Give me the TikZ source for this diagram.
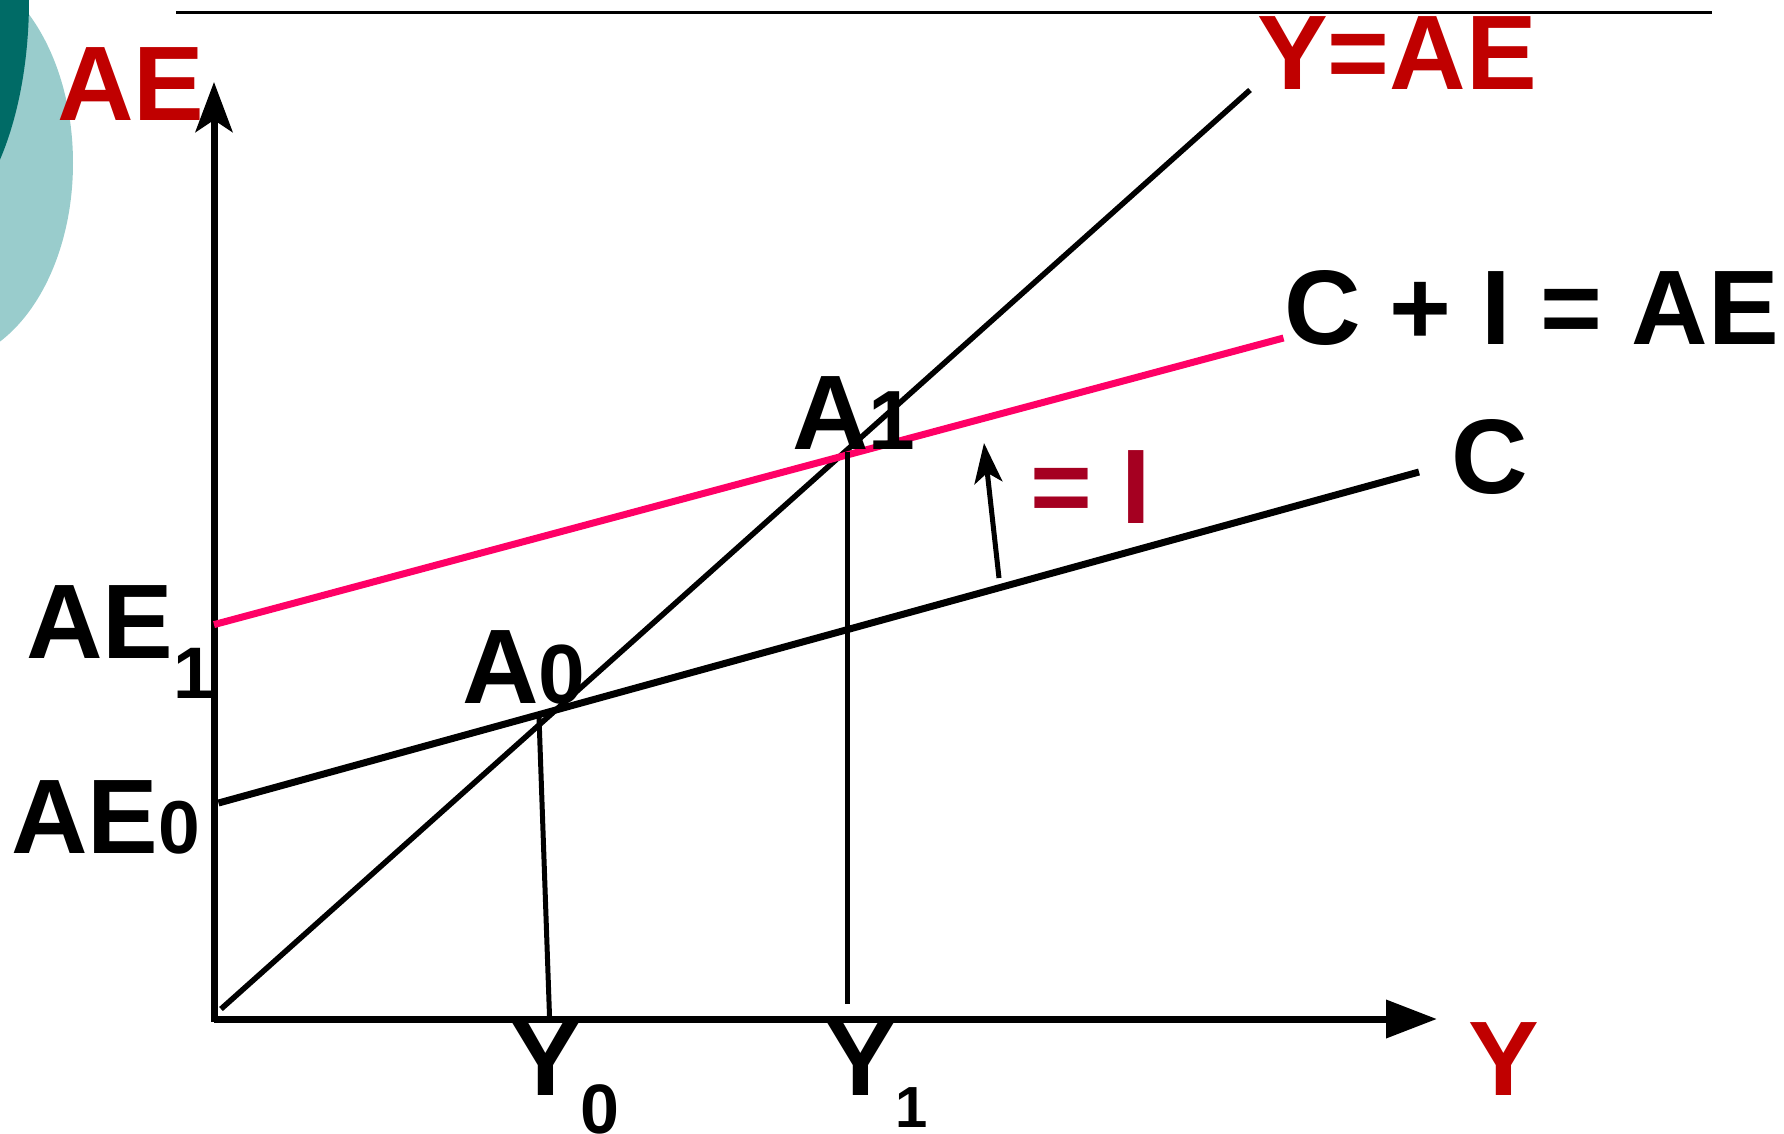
\documentclass[tikz,border=0pt]{standalone}
\usepackage{fontspec}
\setmainfont{Liberation Sans}
\usetikzlibrary{arrows.meta}
\definecolor{myred}{HTML}{C00000}
\definecolor{mypink}{HTML}{FF0066}
\definecolor{mydarkred}{HTML}{A50021}
\definecolor{tealdark}{HTML}{006B66}
\definecolor{teallight}{HTML}{99CCCC}
\newcommand\bigf{\fontsize{106}{110}\selectfont\bfseries}
\newcommand\midf{\fontsize{84}{90}\selectfont\bfseries}
\begin{document}
\begin{tikzpicture}[x=1pt,y=-1pt,
  lbl/.style={anchor=base west,inner sep=0pt,outer sep=0pt,font=\bigf},
  axisline/.style={line width=7pt},
  curve/.style={line width=7pt},
  thin/.style={line width=5pt},
  yarrow/.style={-{Stealth[length=50pt,width=37pt,inset=12pt]}},
  xarrow/.style={-{Triangle[length=51pt,width=37pt]}},
  iarrow/.style={line width=5pt,-{Stealth[length=40pt,width=28pt,inset=10pt]}}]
\useasboundingbox (0,0) rectangle (1784,1133);
\begin{scope}
  \clip (0,0) rectangle (1784,1133);
  \fill[teallight] (-60,163) ellipse [x radius=133, y radius=200];
  \fill[tealdark] (-80,0) ellipse [x radius=109, y radius=235];
\end{scope}
% top rule
\coordinate (tl) at (176,12.5);
\coordinate (tr) at (1712,12.5);
\draw[line width=2.5pt] (tl) -- (tr);
% axes
\coordinate (O) at (214,1019);
\coordinate (Ob) at (214,1022);
\coordinate (ytip) at (214,82);
\coordinate (xtip) at (1437,1019);
\draw[axisline,yarrow] (Ob) -- (ytip);
\draw[axisline,xarrow] (O) -- (xtip);
% lines
\coordinate (yae0) at (221,1009);
\coordinate (yae1) at (1250,90);
\draw[line width=5.5pt] (yae0) -- (yae1);
\coordinate (c0) at (218.5,803);
\coordinate (c1) at (1419,472);
\draw[curve] (c0) -- (c1);
\coordinate (ci0) at (214,624.6);
\coordinate (ci1) at (1283.5,338);
\draw[curve,mypink] (ci0) -- (ci1);
\coordinate (v0t) at (539,717);
\coordinate (v0b) at (549.5,1016);
\draw[thin] (v0t) -- (v0b);
\coordinate (v1t) at (847.7,451.7);
\coordinate (v1b) at (847.7,1003.5);
\draw[thin] (v1t) -- (v1b);
\coordinate (ia) at (999,578);
\coordinate (ib) at (984,443);
\draw[iarrow] (ia) -- (ib);
% labels
\node[lbl,text=myred] (aetop) at (57,120) {AE};
\node[lbl,text=myred] (yae) at (1257,89) {Y=AE};
\node[lbl] (ciae) at (1284,344) {C + I = AE};
\node[lbl] (clab) at (1451,493) {C};
\node[lbl,text=mydarkred] (eqi) at (1030,523) {= I};
\node[lbl] (a1) at (792,449) {A{\midf 1}};
\node[lbl] (a0) at (462,703) {A{\midf 0}};
\node[lbl] (ae1) at (26,658) {AE\raisebox{-40pt}{\fontsize{73}{76}\selectfont\bfseries 1}};
\node[lbl] (ae0) at (11,853) {AE{\fontsize{75}{80}\selectfont\bfseries 0}};
\node[lbl] (y0) at (510,1095) {Y\raisebox{-38pt}{\fontsize{70}{72}\selectfont\bfseries 0}};
\node[lbl] (y1) at (825,1095) {Y\raisebox{-32pt}{\fontsize{58}{60}\selectfont\bfseries 1}};
\node[lbl,text=myred] (ylab) at (1468,1095) {Y};
\end{tikzpicture}
\end{document}
